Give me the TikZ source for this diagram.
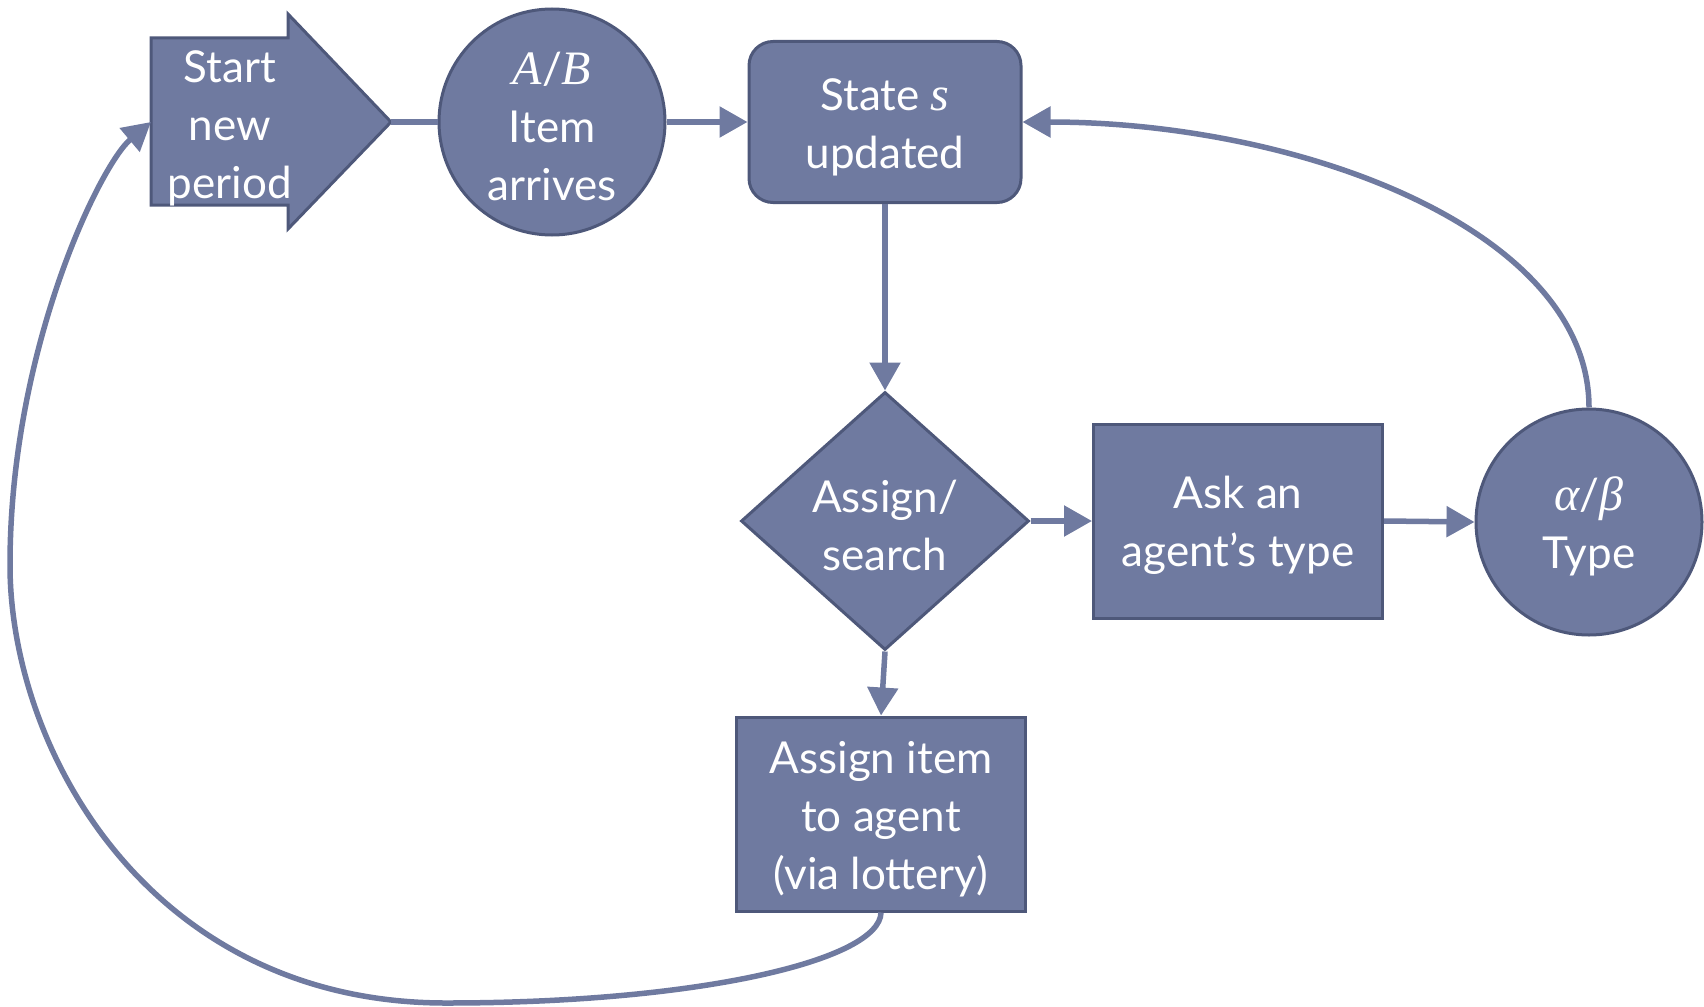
\documentclass[tikz,border=0pt]{standalone}
\usepackage{fontspec}
\setmainfont{Lato}
\newfontfamily\varserif{Liberation Serif}
\newcommand\mi[1]{{\varserif\itshape\fontsize{48}{58}\selectfont #1}}
% taller first line pushes the text block slightly down in its shape
\newcommand\firstline{\rule{0pt}{42pt}}
\usetikzlibrary{arrows.meta,shapes.geometric}
\definecolor{boxfill}{RGB}{111,122,160}
\definecolor{boxline}{RGB}{78,88,122}
\begin{document}
\begin{tikzpicture}[x=1pt,y=-1pt,
  labeltext/.style={text=white,font=\fontsize{44}{58}\selectfont,align=center,inner sep=0pt},
  shapebase/.style={labeltext,fill=boxfill,draw=boxline,line width=3pt},
  circ/.style={shapebase,circle,minimum size=226pt},
  roundbox/.style={shapebase,rectangle,rounded corners=24pt,minimum width=272pt,minimum height=161pt},
  plainbox/.style={shapebase,rectangle,minimum width=289pt,minimum height=194pt},
  decision/.style={shapebase,diamond,minimum width=288pt,minimum height=258pt},
  link/.style={draw=boxfill,line width=5.5pt},
  conn/.style={link,-{Triangle[length=28pt,width=30pt]}}]
\useasboundingbox (0,0) rectangle (1704,1006);

% start-of-period arrow shape
\draw[fill=boxfill,draw=boxline,line width=3pt]
  (151,38) -- (288,38) -- (288,14) -- (391,122) -- (288,229) -- (288,205) -- (151,205) -- cycle;
\node[labeltext] (start) at (230,123) {\firstline Start\\new\\period};
\coordinate (starttip) at (391,122);
\coordinate (startin) at (151,122);

\node[circ] (item) at (552,122) {\firstline\mi{A}/\mi{B}\\Item\\arrives};
\node[roundbox] (state) at (885,122) {\firstline State \mi{s}\\updated};
\node[decision] (dia) at (885,521) {\firstline Assign/\\search};
\node[plainbox] (ask) at (1238,521) {\firstline Ask an\\agent’s type};
\node[circ] (type) at (1589,522) {\firstline\mi{α}/\mi{β}\\Type};
\node[plainbox] (assign) at (881,814) {\firstline Assign item\\to agent\\(via lottery)};

\draw[link] (starttip) -- (item.west);
\draw[conn] (item.east) -- (state.west);
\draw[conn] (state.south) -- (dia.north);
\draw[conn] (dia.east) -- (ask.west);
\draw[conn] (ask.east) -- (type.west);
\draw[conn] (dia.south) -- (assign.north);
\draw[conn] (type.north) .. controls (1589,230) and (1300,122) .. (state.east);
\draw[conn] (assign.south) .. controls (880,960) and (700,1003) .. (446,1003)
  .. controls (150,1003) and (10,750) .. (10,565)
  .. controls (10,350) and (100,165) .. (startin);
\end{tikzpicture}
\end{document}
